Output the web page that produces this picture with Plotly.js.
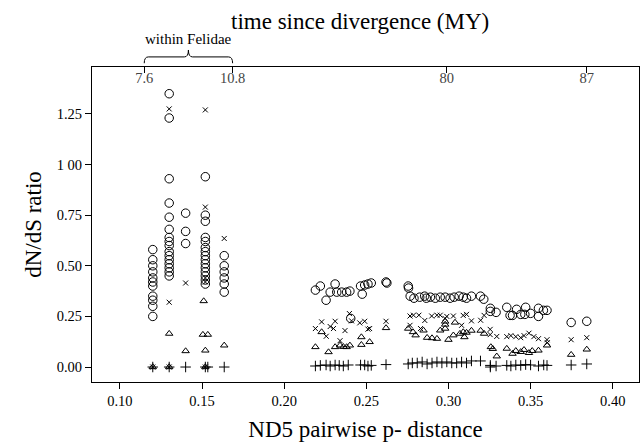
<!DOCTYPE html>
<html>
<head>
<meta charset="utf-8">
<script src="https://cdn.plot.ly/plotly-3.0.1.min.js"></script>
<style>html,body{margin:0;padding:0;background:#fff;}#chart{width:642px;height:444px;}</style>
</head>
<body>
<div id="chart"></div>
<script>
// ---- data ----
// circles (open)
var circX = [0.120,0.120,0.120,0.120,0.120,0.120,0.120,0.120,0.120,0.120,0.120,
  0.130,0.130,0.130,0.130,0.130,0.130,0.130,0.130,0.130,0.130,0.130,0.130,0.130,0.130,0.130,0.130,
  0.140,0.140,0.140,
  0.152,0.152,0.152,0.152,0.152,0.152,0.152,0.152,0.152,0.152,0.152,0.152,0.152,0.152,0.152,
  0.1635,0.1635,0.1635,0.1635,0.1635,0.1635,
  0.219,0.222,0.2255,0.228,0.231,0.232,0.235,0.238,0.240,0.2405,0.2465,0.2475,0.249,0.251,0.253,0.262,0.2625,
  0.2755,0.2757,0.2767,0.279,0.2825,0.2855,0.2865,0.289,0.292,0.295,0.298,0.301,0.3035,0.3065,0.309,0.311,0.314,
  0.3195,0.3215,0.3255,0.3255,0.329,0.3355,0.3375,0.339,0.3415,0.344,0.3465,0.347,0.350,0.3548,0.3548,0.3578,0.360,
  0.3747,0.3842];
var circY = [0.58,0.53,0.50,0.47,0.44,0.42,0.40,0.35,0.33,0.30,0.25,
  1.35,1.23,0.93,0.81,0.74,0.68,0.64,0.62,0.60,0.57,0.55,0.53,0.51,0.49,0.47,0.45,
  0.76,0.67,0.61,
  0.94,0.75,0.72,0.64,0.62,0.59,0.57,0.55,0.53,0.51,0.49,0.47,0.45,0.43,0.41,
  0.55,0.50,0.47,0.44,0.41,0.37,
  0.38,0.40,0.33,0.37,0.41,0.37,0.37,0.37,0.375,0.24,0.40,0.36,0.405,0.41,0.415,0.42,0.415,
  0.40,0.39,0.35,0.34,0.345,0.35,0.34,0.345,0.34,0.345,0.345,0.34,0.345,0.35,0.345,0.34,0.35,
  0.35,0.335,0.29,0.275,0.27,0.295,0.255,0.255,0.285,0.26,0.26,0.295,0.265,0.29,0.25,0.28,0.28,
  0.22,0.226];
// crosses (x)
var crossX = [0.120,0.130,0.130,0.130,0.140,0.152,0.152,0.152,0.152,0.152,0.1635,
  0.219,0.2228,0.2256,0.228,0.231,0.230,0.234,0.237,0.2397,0.241,0.246,0.249,0.251,0.252,0.262,
  0.2766,0.2766,0.2787,0.282,0.283,0.2856,0.2898,0.293,0.295,0.2979,0.299,0.303,0.308,0.309,0.311,0.314,
  0.3196,0.3217,0.3254,0.3254,0.3294,0.3355,0.338,0.341,0.344,0.346,0.349,0.352,0.3548,0.360,0.3602,
  0.3747,0.3842];
var crossY = [0.00,1.275,0.32,0.00,0.415,1.27,0.79,0.44,0.42,0.00,0.635,
  0.19,0.223,0.152,0.20,0.226,0.19,0.13,0.18,0.264,0.228,0.218,0.226,0.187,0.19,0.226,
  0.252,0.206,0.256,0.256,0.19,0.23,0.252,0.256,0.256,0.24,0.25,0.252,0.206,0.255,0.26,0.228,
  0.231,0.255,0.186,0.16,0.151,0.15,0.155,0.15,0.145,0.155,0.167,0.15,0.14,0.135,0.12,
  0.135,0.145];
// triangles (open)
var triX = [0.120,0.130,0.130,0.140,0.151,0.1505,0.1535,0.152,0.152,0.1635,
  0.219,0.2228,0.227,0.231,0.234,0.236,0.238,0.240,0.247,0.247,0.252,0.262,
  0.2755,0.2784,0.280,0.2848,0.287,0.290,0.293,0.295,0.298,0.298,0.298,0.300,0.303,0.304,0.307,0.309,0.3097,0.311,0.314,
  0.3196,0.3217,0.3258,0.327,0.3294,0.3355,0.339,0.341,0.344,0.346,0.349,0.351,0.3548,0.360,
  0.3747,0.3842];
var triY = [0.00,0.165,0.00,0.079,0.326,0.16,0.16,0.082,0.00,0.107,
  0.099,0.173,0.074,0.099,0.107,0.10,0.099,0.107,0.148,0.11,0.124,0.193,
  0.19,0.173,0.157,0.181,0.145,0.143,0.14,0.181,0.19,0.21,0.225,0.135,0.157,0.22,0.165,0.173,0.148,0.17,0.18,
  0.18,0.165,0.099,0.09,0.053,0.091,0.066,0.08,0.075,0.085,0.07,0.08,0.082,0.107,
  0.061,0.087];
// plus signs
var plusX = [0.120,0.130,0.140,0.152,0.1535,0.1635,
  0.219,0.222,0.2255,0.228,0.231,0.2335,0.236,0.239,0.2465,0.249,0.251,0.253,0.262,
  0.2755,0.278,0.281,0.284,0.287,0.290,0.293,0.296,0.299,0.302,0.305,0.308,0.311,0.314,
  0.3195,0.3255,0.3255,0.329,0.3355,0.338,0.341,0.344,0.347,0.350,0.3548,0.358,0.360,
  0.3747,0.3842];
var plusY = [0.00,0.00,0.00,0.00,0.00,0.00,
  0.005,0.008,0.01,0.005,0.01,0.008,0.005,0.01,0.01,0.01,0.005,0.008,0.012,
  0.015,0.02,0.02,0.025,0.015,0.02,0.025,0.02,0.025,0.02,0.02,0.025,0.02,0.03,
  0.03,0.008,0.0,0.005,0.008,0.005,0.01,0.008,0.012,0.01,0.005,0.01,0.008,
  0.01,0.015];

// axis ticks
var xTickVals = [0.10,0.15,0.20,0.25,0.30,0.35,0.40];
var xTickText = ['0.10','0.15','0.20','0.25','0.30','0.35','0.40'];
var yTickVals = [0,0.25,0.5,0.75,1.0,1.25];
var yTickText = ['0.00','0.25','0.50','0.75','1 00','1.25'];
// top axis: time since divergence (MY)
var topTickPos = [0.1148,0.1686,0.299,0.3842];
var topTickText = ['7.6','10.8','80','87'];

var FONT = '"Liberation Serif","Times New Roman",Times,serif';

function mk(x, y, sym, size, name){
  return {x:x, y:y, type:'scatter', mode:'markers', name:name, showlegend:false,
    marker:{symbol:sym, size:size, color:'#000', line:{color:'#000', width:1}}};
}
var traces = [
  mk(circX, circY, 'circle-open', 8.5, 'circles'),
  mk(crossX, crossY, 'x-thin-open', 5, 'crosses'),
  mk(triX, triY, 'triangle-up-open', 6.5, 'triangles'),
  mk(plusX, plusY, 'cross-thin-open', 7.5, 'plus')
];
// invisible trace that carries the top axis
traces.push({x:[topTickPos[0]], y:[0], xaxis:'x2', yaxis:'y', type:'scatter', mode:'markers',
  marker:{opacity:0}, showlegend:false, hoverinfo:'skip'});

var xr = [0.083, 0.416];
var a = topTickPos[0], b = topTickPos[1], m = (a+b)/2, d = 0.0025;
var y0 = 1.012, y1 = 1.032, y2 = 1.054;
var brace = 'M '+a+','+y0+' Q '+a+','+y1+' '+(a+d)+','+y1+' L '+(m-d)+','+y1+
  ' Q '+m+','+y1+' '+m+','+y2+' Q '+m+','+y1+' '+(m+d)+','+y1+' L '+(b-d)+','+y1+
  ' Q '+b+','+y1+' '+b+','+y0;

var layout = {
  width:642, height:444,
  margin:{l:92, r:3, t:67, b:62},
  paper_bgcolor:'#fff', plot_bgcolor:'#fff',
  font:{family:FONT, color:'#000', size:14},
  showlegend:false,
  xaxis:{range:xr, tickvals:xTickVals, ticktext:xTickText, ticks:'outside', ticklen:6,
    tickcolor:'#000', showline:true, linecolor:'#000', linewidth:1, mirror:true,
    showgrid:false, zeroline:false, tickfont:{size:14.5, family:FONT},
    title:{text:'ND5 pairwise p- distance', font:{size:23, family:FONT}, standoff:12}},
  xaxis2:{range:xr, overlaying:'x', side:'top', anchor:'y', tickvals:topTickPos, ticktext:topTickText,
    ticks:'inside', ticklen:6, tickcolor:'#000', ticklabelposition:'inside', showline:false,
    showgrid:false, zeroline:false, tickfont:{size:14.5, family:FONT}},
  yaxis:{range:[-0.074,1.482], tickvals:yTickVals, ticktext:yTickText, ticks:'outside', ticklen:6,
    tickcolor:'#000', showline:true, linecolor:'#000', linewidth:1, mirror:true,
    showgrid:false, zeroline:false, tickfont:{size:14.5, family:FONT},
    title:{text:'dN/dS ratio', font:{size:23, family:FONT}, standoff:8}},
  shapes:[{type:'path', xref:'x', yref:'paper', path:brace, line:{color:'#000', width:1}}],
  annotations:[
    {text:'within Felidae', xref:'x', yref:'paper', x:m, y:1.089, showarrow:false,
      font:{size:15, family:FONT}, xanchor:'center', yanchor:'middle'},
    {text:'time since divergence (MY)', xref:'paper', yref:'paper', x:0.49, y:1.146, showarrow:false,
      font:{size:23, family:FONT}, xanchor:'center', yanchor:'middle'}
  ]
};
Plotly.newPlot('chart', traces, layout, {displayModeBar:false, staticPlot:true});
</script>
</body>
</html>
